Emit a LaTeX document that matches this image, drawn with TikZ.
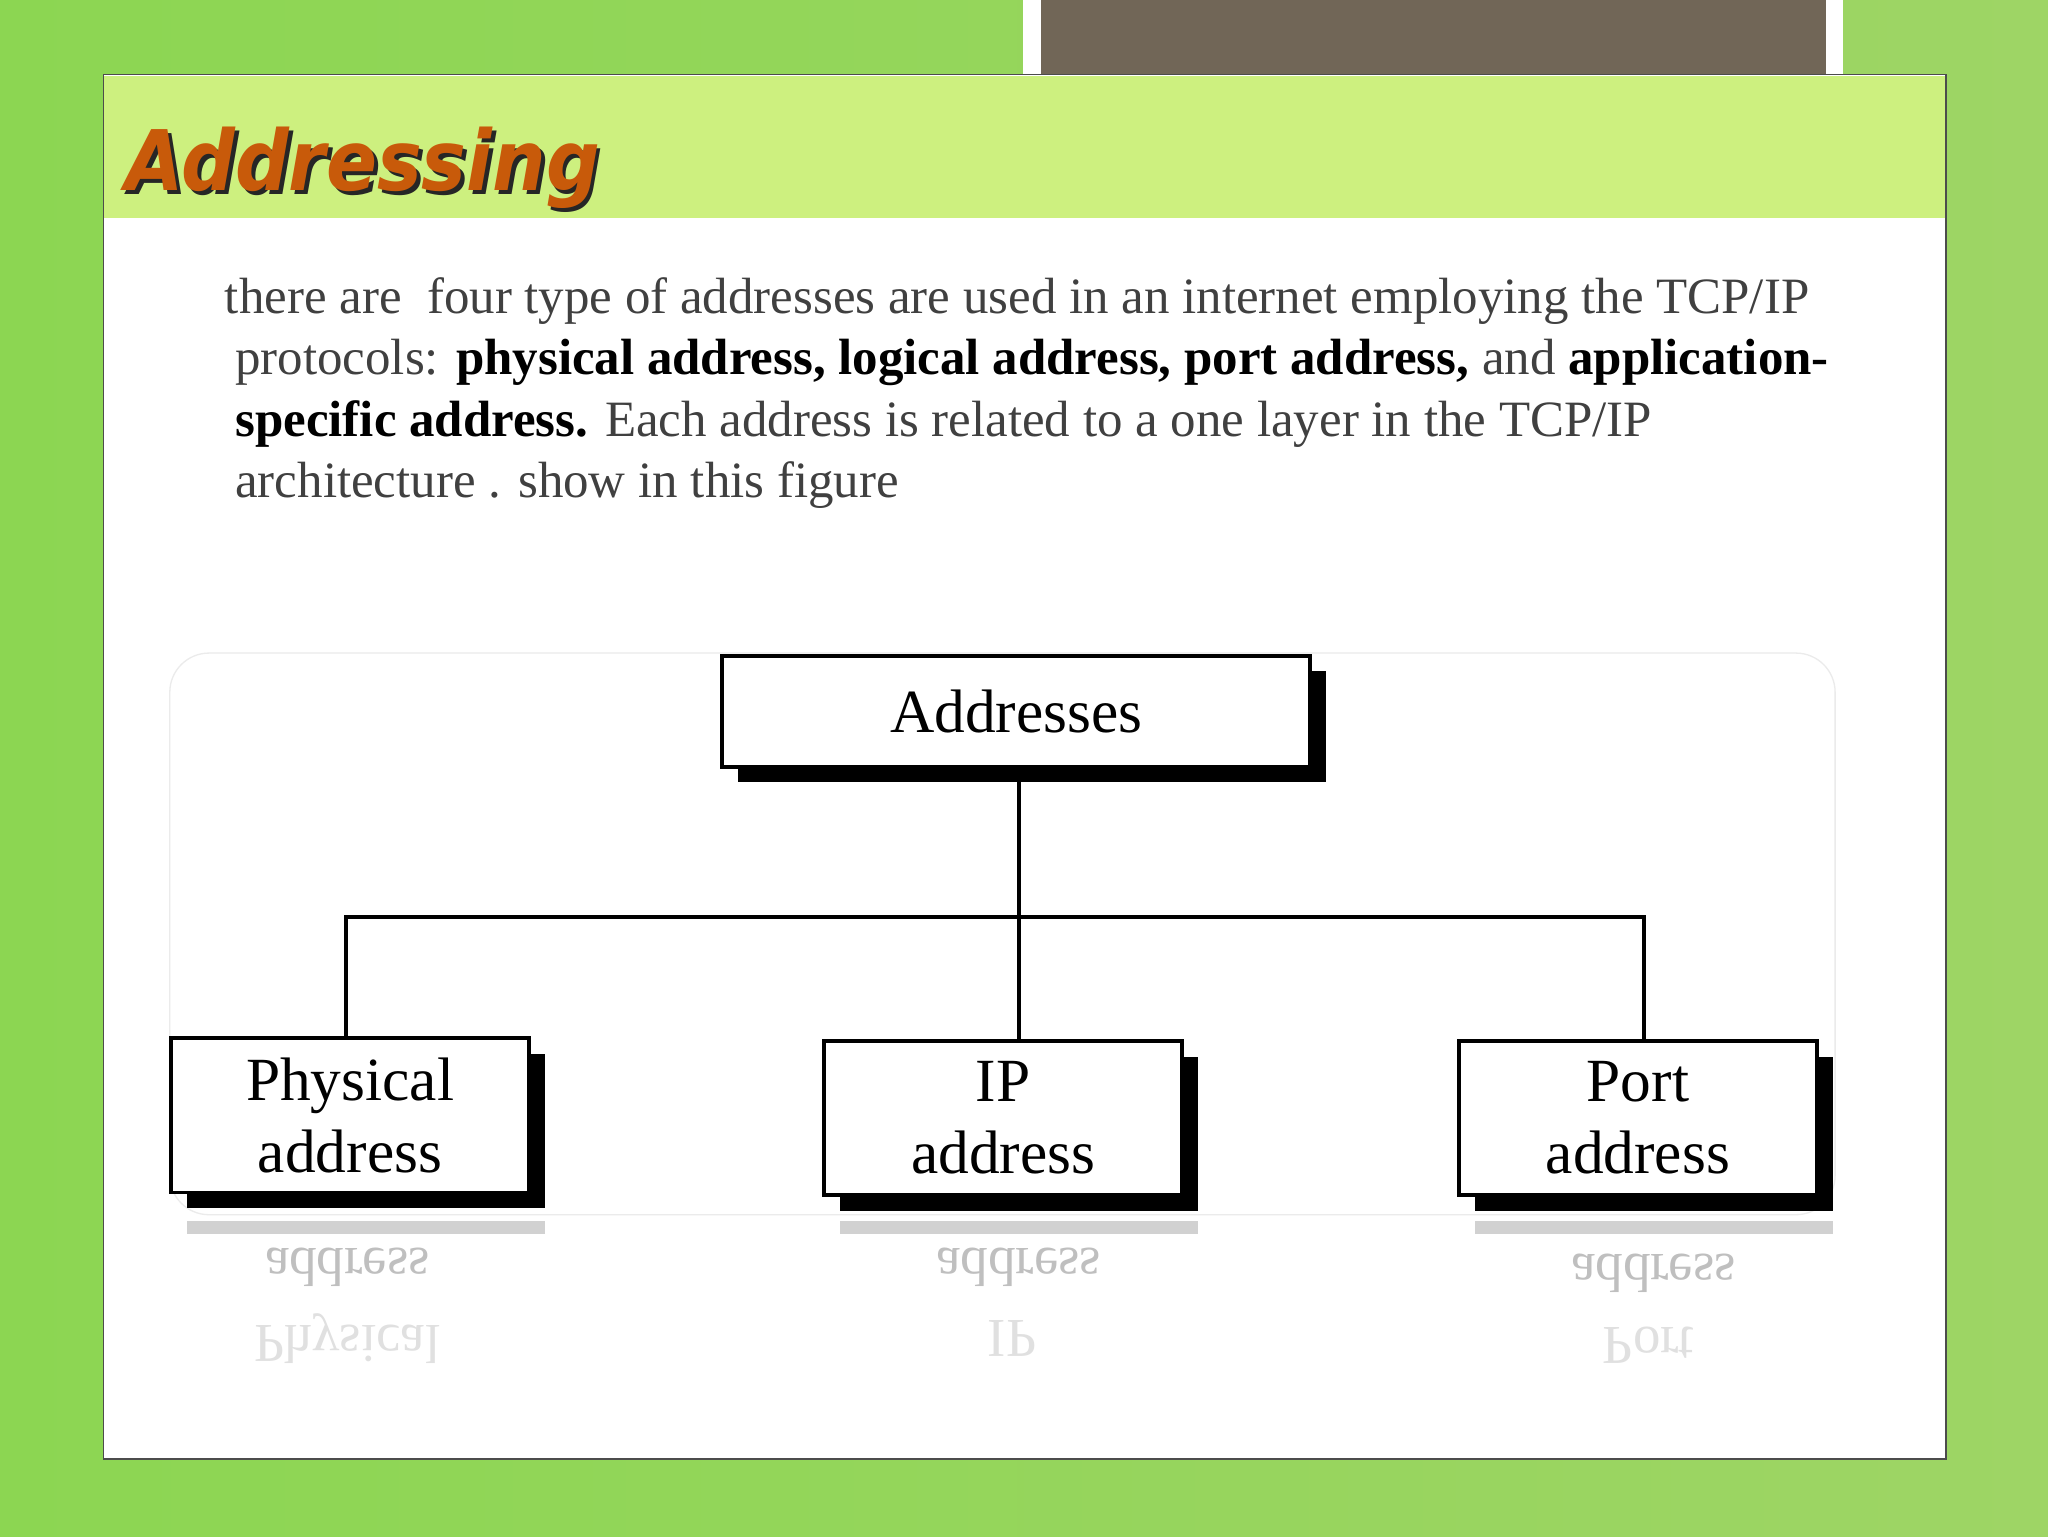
\documentclass[tikz,border=0pt]{standalone}
\usepackage{fontspec}
\setmainfont{Liberation Serif}
\newfontfamily\titlefont{DejaVu Sans Condensed}
\definecolor{bggreen}{HTML}{9ED565}
\definecolor{bgleft}{HTML}{8CD652}
\definecolor{bandgreen}{HTML}{CDF07F}
\definecolor{darkbar}{HTML}{716657}
\definecolor{titleor}{HTML}{C85A0A}
\begin{document}
\begin{tikzpicture}[x=1pt,y=-1pt,
  box/.style={draw=black,line width=3pt,fill=white,minimum width=274pt,align=center,font=\fontsize{47}{55}\selectfont,inner sep=0pt},
  shad/.style={fill=black},
  conn/.style={draw=black,line width=3pt},
  refl/.style={font=\fontsize{42}{50}\selectfont,text=black!25,yscale=-1}]
\useasboundingbox (0,0) rectangle (1568,1176);
\shade[left color=bgleft, right color=bggreen] (0,0) rectangle (1568,1176);
\fill[white] (783,0) rectangle (1411,57);
\fill[darkbar] (797,0) rectangle (1398,57);
\draw[black!70,fill=white,line width=1pt] (79,57) rectangle (1490,1117);
\fill[bandgreen] (80,58) rectangle (1489,167);
\node[anchor=base west,inner sep=0pt,text=black!85] at (99,149) {\titlefont\bfseries\itshape\fontsize{64}{70}\selectfont Addressing};
\node[anchor=base west,inner sep=0pt,text=titleor] (title) at (96,146) {\titlefont\bfseries\itshape\fontsize{64}{70}\selectfont Addressing};
\begin{scope}[every node/.style={anchor=base west,inner sep=0pt,text=black!75,font=\fontsize{39}{40}\selectfont}]
\node (l1) at (172,240) {there are\ \ four type of addresses are used in an internet employing the TCP/IP};
\node (l2) at (180,287) {protocols: \textcolor{black}{\textbf{physical address, logical address, port address,}} and \textcolor{black}{\textbf{application-}}};
\node (l3) at (180,334) {\textcolor{black}{\textbf{specific address.}} Each address is related to a one layer in the TCP/IP};
\node (l4) at (180,381) {architecture . show in this figure};
\end{scope}
\draw[black!8,line width=1pt,rounded corners=30pt] (130,500) rectangle (1405,930);
\fill[shad] (565,514) rectangle (1015,599);
\fill[shad] (143,807) rectangle (417,925);
\fill[shad] (643,809) rectangle (917,927);
\fill[shad] (1129,809) rectangle (1403,927);
\fill[black!18] (143,935) rectangle (417,945);
\fill[black!18] (643,935) rectangle (917,945);
\fill[black!18] (1129,935) rectangle (1403,945);
\node[refl] (r1) at (266,970) {address};
\node[refl] (r2) at (780,970) {address};
\node[refl] (r3) at (1266,975) {address};
\node[refl,text=black!12] (r1b) at (266,1025) {Physical};
\node[refl,text=black!12] (r2b) at (775,1025) {IP};
\node[refl,text=black!12] (r3b) at (1262,1030) {Port};
\node[box,minimum width=450pt,minimum height=85pt] (addr) at (778,544.5) {Addresses};
\node[box,minimum height=118pt] (phys) at (268,854) {Physical\\address};
\node[box,minimum height=118pt] (ip) at (768,856) {IP\\address};
\node[box,minimum height=118pt] (port) at (1254,856) {Port\\address};
\coordinate (j) at (780,702);
\draw[conn] (addr.south -| j) -- (j);
\draw[conn] (phys.north -| 265,0) -- (265,702) -- (1259,702) -- (port.north -| 1259,0);
\draw[conn] (j) -- (ip.north -| j);
\end{tikzpicture}
\end{document}
